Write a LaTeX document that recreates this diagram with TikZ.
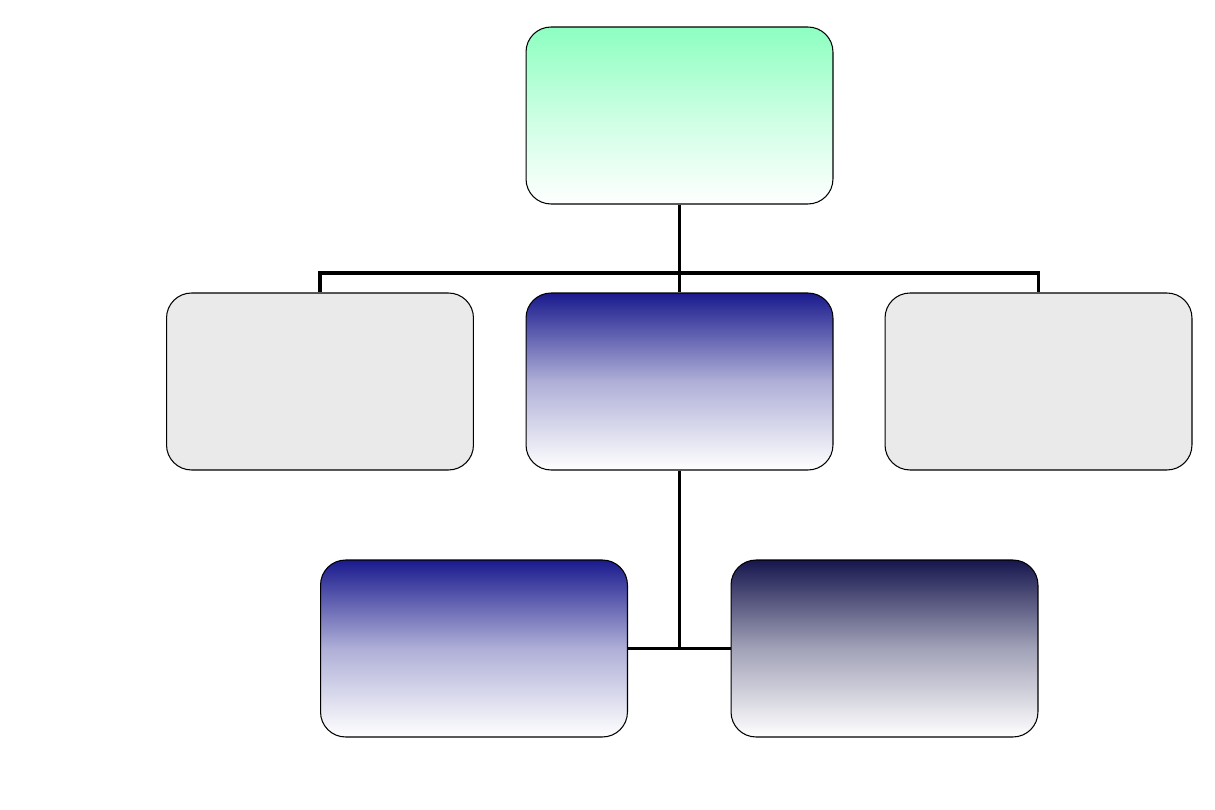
\documentclass[tikz,border=0pt]{standalone}
\begin{document}
\begin{tikzpicture}[x=0.02cm, y=-0.02cm,
    box/.style = {draw, line width=0.6pt, rounded corners=0.5cm, minimum width=6.14cm, minimum height=3.54cm, inner sep=0pt},
    link/.style = {line width=1.8pt}]

    \definecolor{mint}{HTML}{8CFFC0}
    \definecolor{royal}{HTML}{1A1A8E}
    \definecolor{navy}{HTML}{16164E}
    \definecolor{speckle}{HTML}{EAEAEA}

    \useasboundingbox (0, 0) rectangle (1215, 810);

    \node[box, top color=mint, bottom color=white, middle color=mint!45] (root) at (679.5, 115.5) {};

    %--------------------------------------------

    \node[box, fill=speckle] (left) at (320, 381.5) {};
    \node[box, top color=royal, bottom color=white, middle color=royal!35] (mid) at (679.5, 381.5) {};
    \node[box, fill=speckle] (right) at (1038.5, 381.5) {};
    \coordinate (bus) at (679.5, 273);

    \draw[link] (root.south) -- (mid.north);
    \draw[link] (left.north) -- (left.north |- bus) -- (right.north |- bus) -- (right.north);

    %--------------------------------------------

    \node[box, top color=royal, bottom color=white, middle color=royal!35] (botl) at (474, 648.5) {};
    \node[box, top color=navy, bottom color=white, middle color=navy!40] (botr) at (884.5, 648.5) {};

    \draw[link] (mid.south) -- (mid.south |- botl.east);
    \draw[link] (botl.east) -- (botr.west);

\end{tikzpicture}
\end{document}
